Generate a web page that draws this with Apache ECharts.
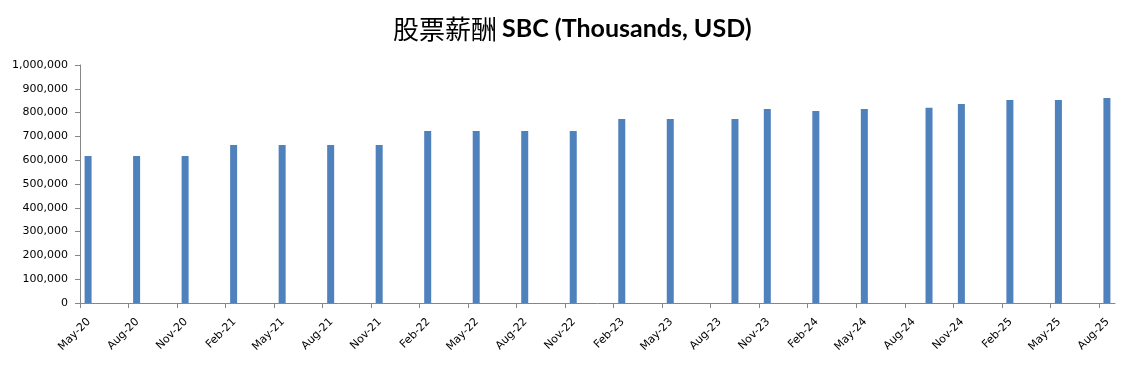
<!DOCTYPE html>
<html>
<head>
<meta charset="utf-8">
<script src="https://cdn.jsdelivr.net/npm/echarts@6/dist/echarts.min.js"></script>
<style>
html,body{margin:0;padding:0;background:#fff;}
#c{width:1133px;height:365px;}
</style>
</head>
<body>
<div id="c"></div>
<script>
// Reporting months (YYYY-MM) and SBC values (thousands USD)
var months = ['2020-05','2020-08','2020-11','2021-02','2021-05','2021-08','2021-11',
  '2022-02','2022-05','2022-08','2022-11','2023-02','2023-05','2023-09','2023-11',
  '2024-02','2024-05','2024-09','2024-11','2025-02','2025-05','2025-08'];
var values = [618000,618000,618000,664000,664000,664000,664000,
  723000,723000,723000,723000,773000,773000,773000,815000,
  807000,815000,820000,836000,853000,853000,861000];
// Quarterly tick labels along the month axis
var tickLabels = ['May-20','Aug-20','Nov-20','Feb-21','May-21','Aug-21','Nov-21',
  'Feb-22','May-22','Aug-22','Nov-22','Feb-23','May-23','Aug-23','Nov-23',
  'Feb-24','May-24','Aug-24','Nov-24','Feb-25','May-25','Aug-25'];
var startYear = 2020, startMonth = 5, totalMonths = 64;

function monthIndex(s){
  var p = s.split('-');
  return (parseInt(p[0],10) - startYear) * 12 + (parseInt(p[1],10) - startMonth);
}
var seriesData = months.map(function(m, i){ return [monthIndex(m) + 0.5, values[i]]; });
var tickVals = tickLabels.map(function(_, i){ return i * 3; });
var labelShift = 0.55;
var labelVals = tickLabels.map(function(_, i){ return i * 3 + labelShift; });

var chart = echarts.init(document.getElementById('c'));
chart.setOption({
  animation: false,
  backgroundColor: '#ffffff',
  title: {
    text: '{cn|股票薪酬} {en|SBC (Thousands, USD)}',
    left: 388,
    top: 11,
    textStyle: {
      rich: {
        cn: { fontFamily: 'Noto Sans CJK SC', fontSize: 26, fontWeight: 'normal', color: '#000' },
        en: { fontFamily: 'Lato', fontSize: 25, fontWeight: 'bold', color: '#000' }
      }
    }
  },
  grid: { left: 80, right: 18, top: 65, bottom: 62, containLabel: false },
  xAxis: {
    type: 'value',
    min: 0,
    max: totalMonths,
    interval: 3,
    splitLine: { show: false },
    axisLine: { show: true, lineStyle: { color: '#868686', width: 1 } },
    axisTick: { show: true, length: 5, customValues: tickVals, lineStyle: { color: '#868686' } },
    axisLabel: {
      customValues: labelVals,
      rotate: 45,
      margin: 17,
      fontFamily: 'DejaVu Sans',
      fontSize: 11,
      color: '#000',
      formatter: function(v){ return tickLabels[Math.round((v - labelShift) / 3)] || ''; }
    }
  },
  yAxis: {
    type: 'value',
    min: 0,
    max: 1000000,
    interval: 100000,
    splitLine: { show: false },
    axisLine: { show: true, lineStyle: { color: '#868686', width: 1 } },
    axisTick: { show: true, length: 5, lineStyle: { color: '#868686' } },
    axisLabel: {
      margin: 12,
      fontFamily: 'DejaVu Sans',
      fontSize: 11,
      color: '#000',
      formatter: function(v){ return v.toLocaleString('en-US'); }
    }
  },
  series: [{
    type: 'bar',
    data: seriesData,
    barWidth: 7,
    itemStyle: { color: '#4F81BD' }
  }]
});
</script>
</body>
</html>
